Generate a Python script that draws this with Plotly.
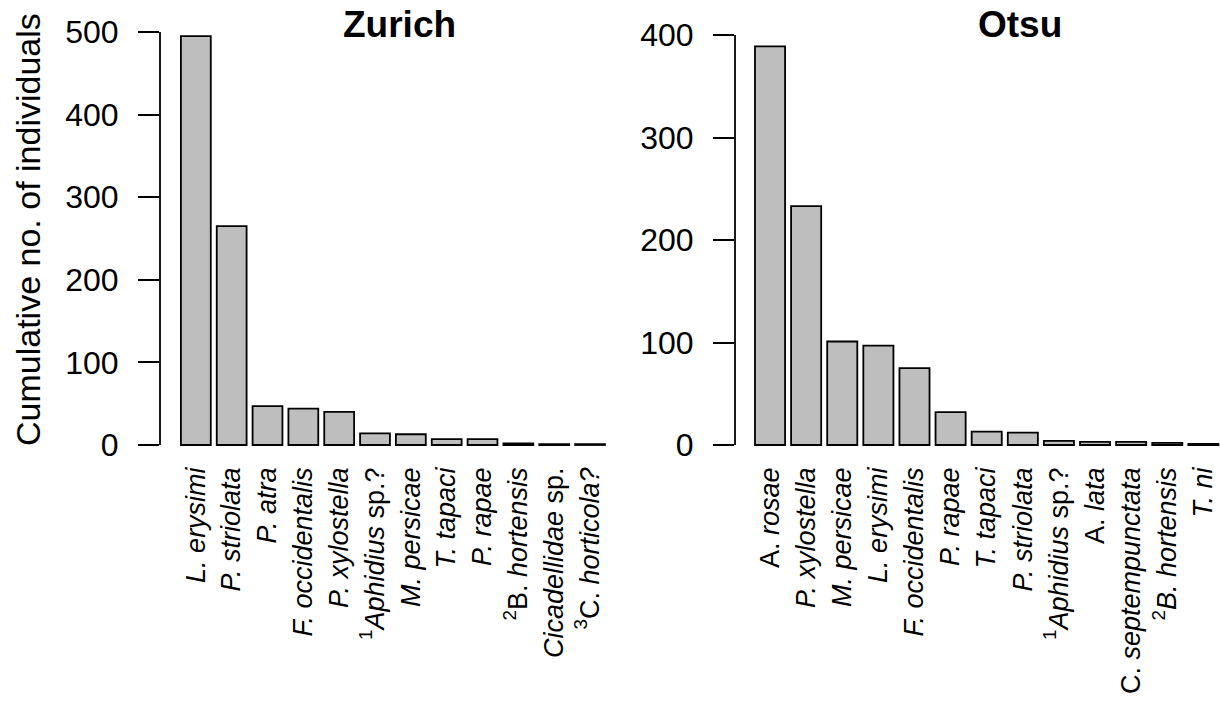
import plotly.graph_objects as go

# Zurich site: species and cumulative counts
zurich_species = [
    "L. erysimi", "P. striolata", "P. atra", "F. occidentalis", "P. xylostella",
    "Aphidius sp.?", "M. persicae", "T. tapaci", "P. rapae", "B. hortensis",
    "Cicadellidae sp.", "C. horticola?",
]
zurich_labels = [
    "<i>L. erysimi</i>", "<i>P. striolata</i>", "<i>P. atra</i>",
    "<i>F. occidentalis</i>", "<i>P. xylostella</i>",
    "<sup>1</sup><i>Aphidius</i> sp.?", "<i>M. persicae</i>", "<i>T. tapaci</i>",
    "<i>P. rapae</i>", "<sup>2</sup>B. <i>hortensis</i>",
    "<i>Cicadellidae</i> sp.", "<sup>3</sup>C. <i>horticola?</i>",
]
zurich_counts = [495, 265, 47, 44, 40, 14, 13, 7, 7, 2, 1, 1]

# Otsu site: species and cumulative counts
otsu_species = [
    "A. rosae", "P. xylostella", "M. persicae", "L. erysimi", "F. occidentalis",
    "P. rapae", "T. tapaci", "P. striolata", "Aphidius sp.?", "A. lata",
    "C. septempunctata", "B. hortensis", "T. ni",
]
otsu_labels = [
    "A. <i>rosae</i>", "<i>P. xylostella</i>", "<i>M. persicae</i>",
    "<i>L. erysimi</i>", "<i>F. occidentalis</i>", "<i>P. rapae</i>",
    "<i>T. tapaci</i>", "<i>P. striolata</i>", "<sup>1</sup><i>Aphidius</i> sp.?",
    "A. <i>lata</i>", "C. <i>septempunctata</i>", "<sup>2</sup><i>B. hortensis</i>",
    "<i>T. ni</i>",
]
otsu_counts = [389, 233, 101, 97, 75, 32, 13, 12, 4, 3, 3, 2, 1]

zurich_ticks = [0, 100, 200, 300, 400, 500]
otsu_ticks = [0, 100, 200, 300, 400]

FONT = "Liberation Sans, Arial, Helvetica, sans-serif"
W, H = 1220, 701
BAR_FILL = "#bebebe"

fig = go.Figure()
fig.add_trace(go.Bar(x=zurich_species, y=zurich_counts, xaxis="x", yaxis="y",
                     marker=dict(color=BAR_FILL, line=dict(color="black", width=1.8)),
                     showlegend=False, hoverinfo="x+y"))
fig.add_trace(go.Bar(x=otsu_species, y=otsu_counts, xaxis="x2", yaxis="y2",
                     marker=dict(color=BAR_FILL, line=dict(color="black", width=1.8)),
                     showlegend=False, hoverinfo="x+y"))


def px_x(p):
    return p / W


def px_y(p):
    return 1 - p / H


xcommon = dict(type="category", showgrid=False, zeroline=False, showline=False,
               ticks="", tickangle=-90, tickfont=dict(family=FONT, size=27, color="black"),
               automargin=False, fixedrange=True)
ycommon = dict(showgrid=False, zeroline=False, showline=False, ticks="outside",
               ticklen=21, tickwidth=1.8, tickcolor="black",
               tickfont=dict(family=FONT, size=32, color="black"),
               ticklabelstandoff=13, automargin=False, fixedrange=True)

fig.update_layout(
    width=W, height=H,
    margin=dict(l=0, r=0, t=0, b=0, autoexpand=False),
    paper_bgcolor="white", plot_bgcolor="white",
    bargap=0.1667,
    xaxis=dict(xcommon, domain=[px_x(160), px_x(623)], anchor="y",
               range=[-1.0, 11.92], tickvals=zurich_species, ticktext=zurich_labels),
    yaxis=dict(ycommon, domain=[px_y(461), px_y(20)], anchor="x",
               range=[-19.4, 514.6], tickvals=zurich_ticks),
    xaxis2=dict(xcommon, domain=[px_x(735), 1.0], anchor="y2",
                range=[-0.97, 12.46], tickvals=otsu_species, ticktext=otsu_labels),
    yaxis2=dict(ycommon, domain=[px_y(461), px_y(30)], anchor="x2",
                range=[-15.6, 404.9], tickvals=otsu_ticks),
)

# y-axis lines spanning only the labelled tick range
fig.add_shape(type="line", xref="x domain", yref="y", x0=0, x1=0,
              y0=zurich_ticks[0], y1=zurich_ticks[-1], line=dict(color="black", width=1.8))
fig.add_shape(type="line", xref="x2 domain", yref="y2", x0=0, x1=0,
              y0=otsu_ticks[0], y1=otsu_ticks[-1], line=dict(color="black", width=1.8))

# panel titles and the shared y-axis title
fig.add_annotation(text="<b>Zurich</b>", xref="paper", yref="paper",
                   x=px_x(400), y=px_y(24), xanchor="center", yanchor="middle",
                   showarrow=False, font=dict(family=FONT, size=37, color="black"))
fig.add_annotation(text="<b>Otsu</b>", xref="paper", yref="paper",
                   x=px_x(1020), y=px_y(24), xanchor="center", yanchor="middle",
                   showarrow=False, font=dict(family=FONT, size=37, color="black"))
fig.add_annotation(text="Cumulative no. of individuals", xref="paper", yref="paper",
                   x=px_x(28), y=px_y(230), xanchor="center", yanchor="middle",
                   showarrow=False, textangle=-90,
                   font=dict(family=FONT, size=34, color="black"))

fig.write_html("out.html")
